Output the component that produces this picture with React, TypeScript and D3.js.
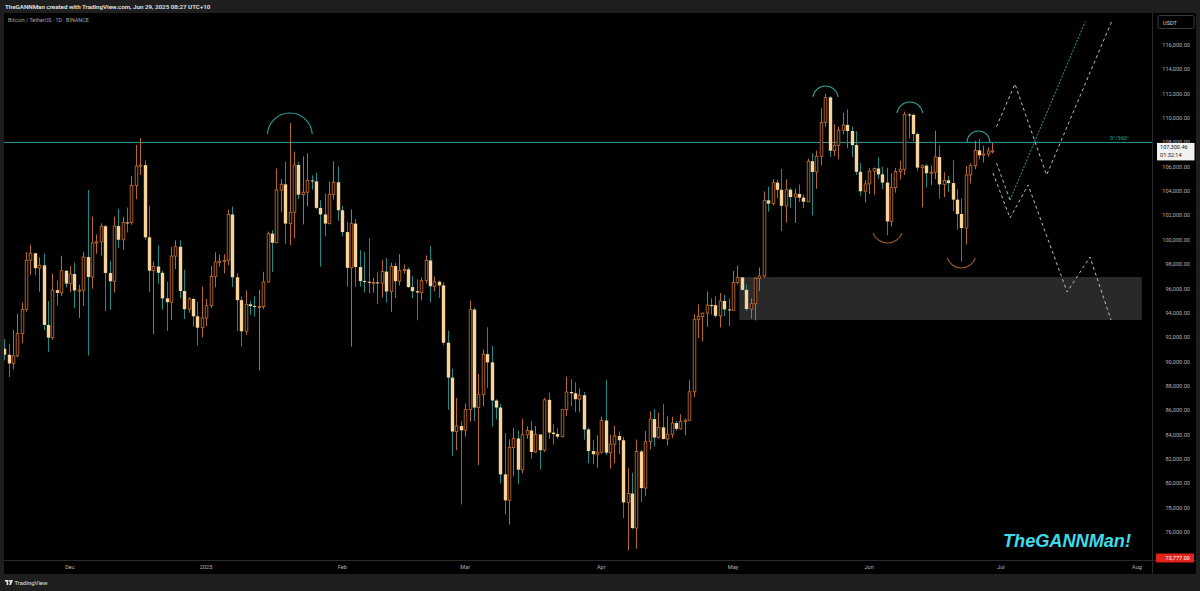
import React, { useEffect } from "react";
import * as d3 from "d3";

type OHLC = [number, number, number, number];

// Daily BTC/USDT candles [open, high, low, close]
const nov2024: OHLC[] = [
  [91064, 91850, 90091, 90558], [90558, 91467, 88723, 89845], [89846, 92594, 89376, 90465],
  [90465, 93905, 90357, 92310], [92310, 94831, 91500, 94286], [94286, 98988, 94100, 98317],
  [98317, 99588, 97122, 98892], [98893, 98935, 97100, 97673], [97673, 98565, 95734, 97900],
  [97901, 98871, 92600, 93010], [93010, 94973, 90791, 91965], [91966, 97208, 91792, 95864],
  [95864, 96650, 94605, 95643], [95644, 98693, 95374, 97460], [97461, 97463, 96090, 96408],
];
const dec2024: OHLC[] = [
  [96408, 97836, 95693, 97185], [97185, 98130, 94395, 95840], [95840, 96305, 93578, 95865],
  [95865, 99000, 94588, 98587], [98587, 104088, 90500, 96945], [96945, 101898, 95981, 99740],
  [99740, 100439, 98845, 99831], [99832, 101350, 98690, 101109], [101110, 101215, 94150, 97276],
  [97277, 98270, 94256, 96593], [96593, 101895, 95657, 101125], [101126, 102541, 99311, 100004],
  [100004, 101895, 99205, 101424], [101424, 102650, 100610, 101420], [101420, 105250, 101237, 104463],
  [104463, 107793, 103333, 106058], [106058, 108353, 105321, 106133], [106133, 106524, 100000, 100204],
  [100204, 102800, 95700, 97461], [97461, 98233, 92232, 97805], [97805, 99540, 96398, 97291],
  [97292, 97448, 94250, 95187], [95187, 96538, 92520, 94881], [94881, 99416, 93400, 98663],
  [98664, 99960, 97600, 99429], [99430, 99963, 95199, 95792], [95792, 97544, 93500, 94300],
  [94300, 95300, 94000, 95140], [95140, 95227, 92882, 93716], [93716, 94903, 91318, 92779],
  [92780, 96150, 92000, 93576],
];
const jan2025: OHLC[] = [
  [93576, 95151, 92888, 94592], [94592, 97839, 94393, 96985], [96985, 98976, 96100, 98175],
  [98175, 98779, 97780, 98237], [98237, 98814, 97250, 98315], [98315, 102480, 97900, 102079],
  [102079, 102724, 96132, 96923], [96923, 97259, 92500, 95043], [95043, 95349, 91220, 92484],
  [92485, 95837, 92207, 94701], [94702, 94977, 93840, 94566], [94566, 95378, 93712, 94488],
  [94488, 95900, 89256, 94517], [94517, 97371, 94306, 96534], [96534, 100681, 96500, 100504],
  [100504, 100781, 97352, 99757], [99757, 105865, 99950, 104078], [104078, 104988, 102277, 104557],
  [104557, 106422, 99651, 101331], [101331, 109588, 99550, 102260], [102261, 107240, 100119, 106143],
  [106144, 106394, 103340, 103706], [103706, 106850, 101262, 103910], [103910, 107120, 102750, 104871],
  [104871, 105286, 104106, 104796], [104797, 105500, 102520, 102620], [102620, 103260, 97777, 102082],
  [102082, 103800, 100272, 101335], [101336, 104782, 101256, 103733], [103733, 106457, 103297, 104722],
  [104722, 106012, 101560, 102429],
];
const feb2025: OHLC[] = [
  [102429, 102783, 100279, 100635], [100635, 101456, 96150, 97700], [97700, 102500, 91231, 101328],
  [101328, 101700, 96150, 97763], [97763, 99149, 96155, 96613], [96613, 99000, 95676, 96555],
  [96555, 100137, 95620, 96482], [96482, 96880, 95688, 96506], [96507, 97323, 94722, 96444],
  [96444, 98345, 95256, 97391], [97391, 98500, 94850, 95754], [95754, 98119, 94088, 97837],
  [97837, 98100, 95217, 96608], [96608, 98826, 96252, 97500], [97500, 97972, 97223, 97570],
  [97570, 97725, 96055, 96118], [96118, 97046, 95205, 95780], [95780, 96753, 93388, 95671],
  [95671, 96899, 95029, 96644], [96644, 98711, 96415, 98305], [98305, 99508, 94871, 96181],
  [96181, 96980, 95770, 96551], [96551, 96650, 95227, 96258], [96258, 96500, 91349, 91552],
  [91552, 92540, 86050, 88680], [88680, 89414, 82256, 84250], [84250, 87000, 82716, 84708],
  [84708, 85120, 78258, 84350],
];
const mar2025: OHLC[] = [
  [84350, 86558, 83824, 86065], [86065, 95000, 85050, 94270], [94270, 94416, 85117, 86220],
  [86221, 88967, 81500, 87281], [87281, 91000, 86334, 90606], [90606, 92810, 87836, 89931],
  [89931, 91283, 84667, 86801], [86801, 86897, 85248, 86222], [86222, 86500, 80000, 80734],
  [80735, 84123, 77459, 78600], [78600, 83617, 76606, 82932], [82932, 84539, 80607, 83680],
  [83680, 84336, 79939, 81116], [81116, 85309, 80818, 83983], [83984, 84673, 83639, 84338],
  [84338, 85117, 82017, 82574], [82575, 84725, 82492, 84011], [84011, 84021, 81134, 82718],
  [82718, 87021, 82569, 86855], [86855, 87453, 83655, 84167], [84167, 84850, 83175, 84043],
  [84044, 84513, 83674, 83832], [83832, 86094, 83794, 86054], [86054, 88765, 85518, 87498],
  [87499, 88542, 86346, 87392], [87392, 88292, 85861, 86909], [86909, 87786, 85837, 87232],
  [87232, 87515, 83585, 84424], [84424, 84567, 81644, 82648], [82649, 83534, 81565, 82389],
  [82390, 83943, 81279, 82550],
];
const apr2025: OHLC[] = [
  [82550, 85487, 82429, 85159], [85159, 88500, 82320, 82516], [82516, 83998, 81211, 83213],
  [83213, 84720, 81659, 83889], [83889, 84266, 82379, 83537], [83537, 83817, 77153, 78430],
  [78430, 81243, 74508, 79163], [79163, 80867, 76239, 76322], [76322, 83588, 74620, 82615],
  [82615, 82753, 78464, 79607], [79607, 84300, 78969, 83423], [83423, 85905, 82792, 85276],
  [85276, 86100, 83034, 83760], [83760, 85799, 83678, 84591], [84591, 86496, 83600, 83643],
  [83643, 85500, 83111, 84030], [84030, 85470, 83736, 84947], [84947, 85132, 84303, 84474],
  [84474, 85677, 84424, 85077], [85077, 85320, 83949, 85179], [85179, 88460, 85144, 87516],
  [87516, 93888, 87076, 93442], [93442, 94696, 91935, 93691], [93691, 94005, 91660, 93980],
  [93980, 95758, 92855, 94638], [94638, 95199, 93870, 94629], [94629, 95369, 93602, 93755],
  [93755, 95630, 92800, 94978], [94978, 95470, 93742, 94284], [94284, 95200, 92910, 94207],
];
const may2025: OHLC[] = [
  [94207, 97437, 94153, 96492], [96492, 97895, 96350, 96910], [96910, 96943, 95800, 95891],
  [95891, 96318, 94172, 94315], [94315, 95199, 93514, 94749], [94749, 96920, 93377, 96834],
  [96834, 97732, 95784, 97032], [97032, 103971, 96876, 103241], [103241, 104361, 102315, 102971],
  [102971, 104984, 102818, 104697], [104697, 104938, 103410, 104107], [104107, 105819, 100719, 102791],
  [102791, 104976, 101430, 104113], [104113, 104250, 102600, 103507], [103507, 104192, 101383, 103763],
  [103763, 104550, 103100, 103463], [103463, 103709, 102612, 103126], [103126, 106660, 103105, 106454],
  [106454, 107108, 102000, 105573], [105573, 107320, 104184, 106850], [106850, 110797, 106100, 109643],
  [109643, 111980, 109285, 111696], [111696, 111800, 106800, 107318], [107318, 109506, 106875, 107761],
  [107761, 109299, 106600, 109004], [109004, 110422, 108670, 109434], [109434, 110718, 107516, 108938],
  [108938, 109284, 106800, 107781], [107781, 108910, 105322, 105589], [105589, 106313, 103621, 103985],
  [103985, 104900, 103068, 104591],
];
const jun2025: OHLC[] = [
  [104591, 105866, 103752, 105642], [105642, 105935, 103705, 105857], [105858, 106794, 105000, 105376],
  [105376, 105997, 104172, 104696], [104696, 105909, 100372, 101509], [101509, 105478, 101095, 104288],
  [104288, 105900, 103871, 105615], [105615, 106488, 104965, 105793], [105793, 110530, 105318, 110295],
  [110295, 110400, 108331, 110258], [110258, 110384, 108086, 108687], [108687, 108804, 105671, 105929],
  [105929, 106182, 102664, 106090], [106090, 106210, 104300, 105472], [105472, 106128, 104494, 105552],
  [105552, 108952, 104980, 106796], [106796, 107771, 103371, 104551], [104551, 105550, 103500, 104886],
  [104886, 105260, 103929, 104658], [104658, 106524, 102345, 103297], [103297, 104165, 100837, 102120],
  [102120, 103399, 98200, 100963], [100963, 106074, 99613, 105333], [105333, 106290, 104622, 106084],
  [106084, 108135, 105800, 107340], [107340, 108272, 106595, 106947], [106947, 107735, 106356, 107047],
  [107047, 107577, 106811, 107297], [107297, 107950, 107100, 107300],
];

const monthStarts = ["2024-11-16", "2024-12-01", "2025-01-01", "2025-02-01", "2025-03-01", "2025-04-01", "2025-05-01", "2025-06-01"];
const monthData = [nov2024, dec2024, jan2025, feb2025, mar2025, apr2025, may2025, jun2025];

const priceTicks = d3.range(76000, 116001, 2000);
const timeTickDates = ["2024-12-01", "2025-01-01", "2025-02-01", "2025-03-01", "2025-04-01", "2025-05-01", "2025-06-01", "2025-07-01", "2025-08-01"];
const timeTickLabels = ["Dec", "2025", "Feb", "Mar", "Apr", "May", "Jun", "Jul", "Aug"];

// Annotations (date, price)
const levelPrice = 108000;
const levelLabel = "0°/360°";
const lastPrice = 107300.46;
const lastPriceText = "107,300.46";
const countdownText = "01:32:14";
const lowMarkPrice = 73777;
const lowMarkText = "73,777.00";
const zoneFrom = "2025-05-02T10:00:00Z";
const zoneTo = "2025-08-02T02:00:00Z";
const zoneLow = 93413;
const zoneHigh = 96945;
// arcs: center date, half width (days), apex price, end price
const topArcs: [string, number, number, number][] = [
  ["2025-01-20T02:00:00Z", 5.1, 110415, 108690],
  ["2025-05-22T02:00:00Z", 2.85, 112632, 111729],
  ["2025-06-10T07:00:00Z", 2.95, 111318, 110415],
  ["2025-06-25T22:00:00Z", 2.6, 108936, 108033],
];
const bottomArcs: [string, number, number, number][] = [
  ["2025-06-05T05:00:00Z", 3.3, 99737, 100559],
  ["2025-06-22T00:00:00Z", 3.2, 97684, 98505],
];
const projA: [string, number][] = [
  ["2025-06-30T00:00:00Z", 109290], ["2025-07-04T05:00:00Z", 112797],
  ["2025-07-11T10:00:00Z", 105322], ["2025-07-26T05:00:00Z", 117914],
];
const projB: [string, number][] = [
  ["2025-06-30T00:00:00Z", 106308], ["2025-07-03T02:00:00Z", 103269],
];
const projBTeal: [string, number][] = [
  ["2025-07-03T02:00:00Z", 103269], ["2025-07-20T05:00:00Z", 117914],
];
const projC: [string, number][] = [
  ["2025-06-29T05:00:00Z", 105487], ["2025-07-03T02:00:00Z", 101791],
  ["2025-07-07T05:00:00Z", 104501], ["2025-07-16T02:00:00Z", 95713],
  ["2025-07-21T07:00:00Z", 98588], ["2025-07-26T02:00:00Z", 93413],
];

const W = 1200;
const H = 591;
const PLOT_L = 4, PLOT_R = 1152, PLOT_T = 13, PLOT_B = 560;

const UP = "#b8672f";
const DOWN_FILL = "#f8d39b";
const DOWN_WICK = "#1f8c8a";
const TEAL = "#2f9e9c";
const FONT = "Roboto, 'Liberation Sans', Arial, sans-serif";

export default function App() {
  useEffect(() => {
    document.body.style.margin = "0";
    document.body.style.background = "#1e1e1e";
  }, []);

  const x = d3.scaleUtc()
    .domain([new Date("2024-12-01T00:00:00Z"), new Date("2025-08-01T00:00:00Z")])
    .range([70, 1137]);
  const y = d3.scaleLinear().domain([76000, 116000]).range([532, 45]);

  const candles = monthData.flatMap((arr, mi) =>
    arr.map((v, i) => ({
      date: d3.utcDay.offset(new Date(monthStarts[mi] + "T00:00:00Z"), i),
      o: v[0], h: v[1], l: v[2], c: v[3],
    }))
  );

  const line = d3.line<[string, number]>()
    .x((d) => x(new Date(d[0])))
    .y((d) => y(d[1]));

  const arcPath = (a: [string, number, number, number], up: boolean) => {
    const c = new Date(a[0]);
    const x0 = x(d3.utcHour.offset(c, -a[1] * 24));
    const x1 = x(d3.utcHour.offset(c, a[1] * 24));
    const yEnd = y(a[3]);
    const yApex = y(a[2]);
    const half = (x1 - x0) / 2;
    const s = Math.abs(yEnd - yApex);
    const r = (half * half + s * s) / (2 * s);
    const large = s > half ? 1 : 0;
    return `M${x0},${yEnd} A${r},${r} 0 ${large} ${up ? 1 : 0} ${x1},${yEnd}`;
  };

  const bw = 2.6;

  return (
    <svg width={W} height={H} style={{ display: "block", background: "#1e1e1e" }} fontFamily={FONT}>
      <defs>
        <clipPath id="plotClip">
          <rect x={PLOT_L} y={PLOT_T} width={PLOT_R - PLOT_L} height={PLOT_B - PLOT_T} />
        </clipPath>
      </defs>
      {/* header */}
      <rect x={0} y={0} width={W} height={H} fill="#1e1e1e" />
      <text x={5} y={8.8} fontSize={6.2} fill="#e6e6e6" fontWeight={600}>
        TheGANNMan created with TradingView.com, Jun 29, 2025 08:27 UTC+10
      </text>
      {/* main panel */}
      <rect x={PLOT_L} y={PLOT_T} width={1196 - PLOT_L} height={574 - PLOT_T} fill="#000" />
      <line x1={PLOT_L} x2={1196} y1={PLOT_B + 0.5} y2={PLOT_B + 0.5} stroke="#2a2a2a" />
      <line x1={PLOT_R + 0.5} x2={PLOT_R + 0.5} y1={PLOT_T} y2={574} stroke="#2a2a2a" />

      <g clipPath="url(#plotClip)">
        {/* zone */}
        <rect
          x={x(new Date(zoneFrom))}
          y={y(zoneHigh)}
          width={x(new Date(zoneTo)) - x(new Date(zoneFrom))}
          height={y(zoneLow) - y(zoneHigh)}
          fill="#292929"
        />
        {/* level line */}
        <line x1={PLOT_L} x2={PLOT_R} y1={y(levelPrice)} y2={y(levelPrice)} stroke={TEAL} strokeWidth={1} />
        <text x={1110} y={y(levelPrice) - 2.5} fontSize={5.6} fill={TEAL}>{levelLabel}</text>

        {/* candles */}
        {candles.map((d, i) => {
          const cx = Math.round(x(d.date)) + 0.5;
          const up = d.c >= d.o;
          const top = y(Math.max(d.o, d.c));
          const bot = y(Math.min(d.o, d.c));
          const hgt = Math.max(1, bot - top);
          return (
            <g key={i}>
              <line x1={cx} x2={cx} y1={y(d.h)} y2={y(d.l)} stroke={up ? UP : DOWN_WICK} strokeWidth={1} />
              {up ? (
                <rect x={cx - bw / 2} y={top} width={bw} height={hgt} fill="#000" stroke={UP} strokeWidth={0.9} />
              ) : (
                <rect x={cx - 1.7} y={top} width={3.4} height={hgt} fill={DOWN_FILL} />
              )}
            </g>
          );
        })}

        {/* arcs */}
        {topArcs.map((a, i) => (
          <path key={"ta" + i} d={arcPath(a, true)} fill="none" stroke={TEAL} strokeWidth={1.1} />
        ))}
        {bottomArcs.map((a, i) => (
          <path key={"ba" + i} d={arcPath(a, false)} fill="none" stroke="#9a5a2e" strokeWidth={1.1} />
        ))}

        {/* projections */}
        <path d={line(projA) || ""} fill="none" stroke="#bdbdbd" strokeWidth={1} strokeDasharray="3,3" />
        <path d={line(projB) || ""} fill="none" stroke="#bdbdbd" strokeWidth={1} strokeDasharray="3,3" />
        <path d={line(projBTeal) || ""} fill="none" stroke={TEAL} strokeWidth={1} strokeDasharray="2,1.5" />
        <path d={line(projC) || ""} fill="none" stroke="#bdbdbd" strokeWidth={1} strokeDasharray="3,3" />
      </g>

      {/* symbol */}
      <text x={8} y={22} fontSize={5.4} fill="#a8a8a8">Bitcoin / TetherUS · 1D · BINANCE</text>

      {/* watermark */}
      <text x={1003} y={547} fontSize={19} fontWeight={700} fontStyle="italic" fill="#3ddcec"
        fontFamily="'Liberation Sans', Arial, sans-serif" textLength={128} lengthAdjust="spacingAndGlyphs">
        TheGANNMan!
      </text>

      {/* price axis */}
      <rect x={1158} y={15.5} width={36} height={13} fill="#000" stroke="#3a3a3a" rx={1.5} />
      <text x={1163} y={24.5} fontSize={5.6} fill="#d0d0d0">USDT</text>
      {priceTicks.map((p) => (
        <text key={p} x={1190} y={y(p) + 2} fontSize={5.6} fill="#b0b0b0" textAnchor="end">
          {d3.format(",.2f")(p)}
        </text>
      ))}
      {/* last price label */}
      <rect x={1157} y={y(lastPrice) - 8} width={37.5} height={17.5} fill="#f2f2f2" />
      <text x={1160} y={y(lastPrice) - 1.5} fontSize={5.6} fill="#222">{lastPriceText}</text>
      <text x={1160} y={y(lastPrice) + 6} fontSize={5.6} fill="#222">{countdownText}</text>
      {/* low mark label */}
      <rect x={1156} y={y(lowMarkPrice) - 5.5} width={38} height={9} fill="#e0221b" rx={1} />
      <text x={1190} y={y(lowMarkPrice) + 1.3} fontSize={5.6} fill="#fff" textAnchor="end">{lowMarkText}</text>

      {/* time axis */}
      {timeTickDates.map((d, i) => (
        <text key={d} x={x(new Date(d + "T00:00:00Z"))} y={569} fontSize={5.6} fill="#b0b0b0" textAnchor="middle">
          {timeTickLabels[i]}
        </text>
      ))}

      {/* footer */}
      <g transform="translate(5,580)" fill="#e6e6e6">
        <rect x={0} y={0} width={3.2} height={1.6} />
        <rect x={1.6} y={0} width={1.6} height={5} />
        <circle cx={4.6} cy={0.9} r={0.9} />
        <path d="M5.6,0 L8,0 L5.8,5 L4.2,5 Z" />
      </g>
      <text x={14.5} y={585} fontSize={6} fill="#e0e0e0">TradingView</text>
    </svg>
  );
}
